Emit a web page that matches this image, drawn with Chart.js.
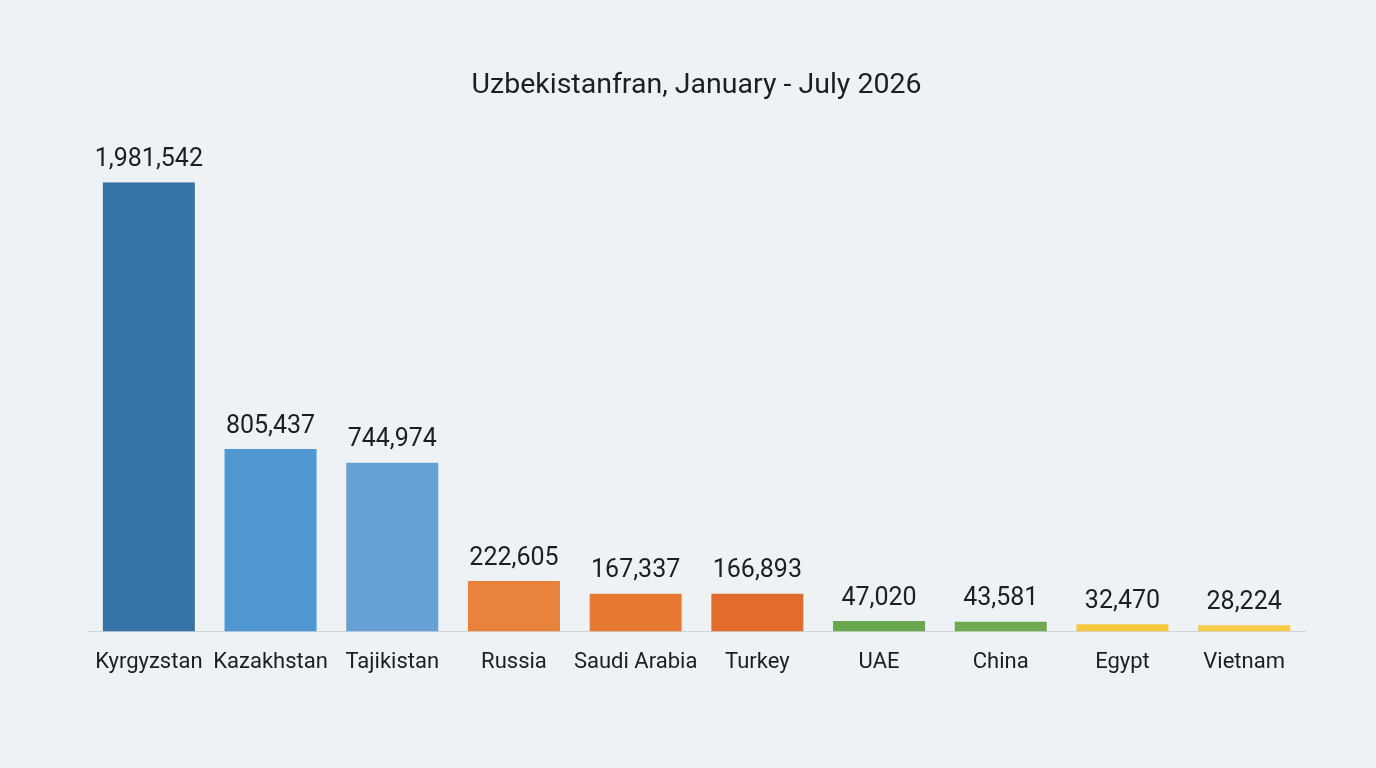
<!DOCTYPE html>
<html>
<head>
<meta charset="utf-8">
<script src="https://cdn.jsdelivr.net/npm/chart.js@4"></script>
<style>
  html, body { margin: 0; padding: 0; background: #eef2f4; }
  #wrap { width: 1376px; height: 768px; position: relative; }
</style>
</head>
<body>
<div id="wrap"><canvas id="chartPaises"></canvas></div>
<script>
const PAISES = ['Kyrgyzstan', 'Kazakhstan', 'Tajikistan', 'Russia', 'Saudi Arabia',
                'Turkey', 'UAE', 'China', 'Egypt', 'Vietnam'];
const VISITANTES = [1981542, 805437, 744974, 222605, 167337, 166893, 47020, 43581, 32470, 28224];
const COLORES = ['#3572a6', '#5198d2', '#66a0d5', '#e9823c', '#e77a33', '#e16c2b',
                 '#6aa84f', '#6fa952', '#f6c83e', '#f7cb47'];
const TITULO = 'Uzbekistanfran, January - July 2026';

const colorTexto = '#1c1e21';

const etiquetasValor = {
    id: 'etiquetasValor',
    afterDatasetsDraw(chart) {
        const ctx = chart.ctx;
        const meta = chart.getDatasetMeta(0);
        ctx.save();
        ctx.font = '25px Roboto';
        ctx.fillStyle = colorTexto;
        ctx.textAlign = 'center';
        ctx.textBaseline = 'bottom';
        meta.data.forEach((barra, i) => {
            ctx.fillText(VISITANTES[i].toLocaleString('en-US'), barra.x, barra.y - 10);
        });
        ctx.restore();
    }
};

new Chart(document.getElementById('chartPaises'), {
    type: 'bar',
    data: {
        labels: PAISES,
        datasets: [{
            data: VISITANTES,
            backgroundColor: COLORES,
            borderWidth: 0,
            barPercentage: 0.756,
            categoryPercentage: 1
        }]
    },
    options: {
        responsive: true,
        maintainAspectRatio: false,
        animation: false,
        layout: { padding: { left: 88, right: 71, top: 0, bottom: 82 } },
        plugins: {
            legend: { display: false },
            tooltip: { enabled: false },
            title: {
                display: true,
                text: TITULO,
                color: colorTexto,
                font: { family: 'Roboto', size: 28.5, weight: 'normal' },
                padding: { top: 69, bottom: 79 }
            }
        },
        scales: {
            x: {
                grid: { display: false },
                border: { display: true, color: '#cfd4d8', width: 1 },
                ticks: {
                    color: colorTexto,
                    font: { family: 'Roboto', size: 22 },
                    padding: 10,
                    maxRotation: 0,
                    autoSkip: false
                }
            },
            y: {
                display: false,
                min: 0,
                max: 1981542
            }
        }
    },
    plugins: [etiquetasValor]
});
</script>
</body>
</html>
